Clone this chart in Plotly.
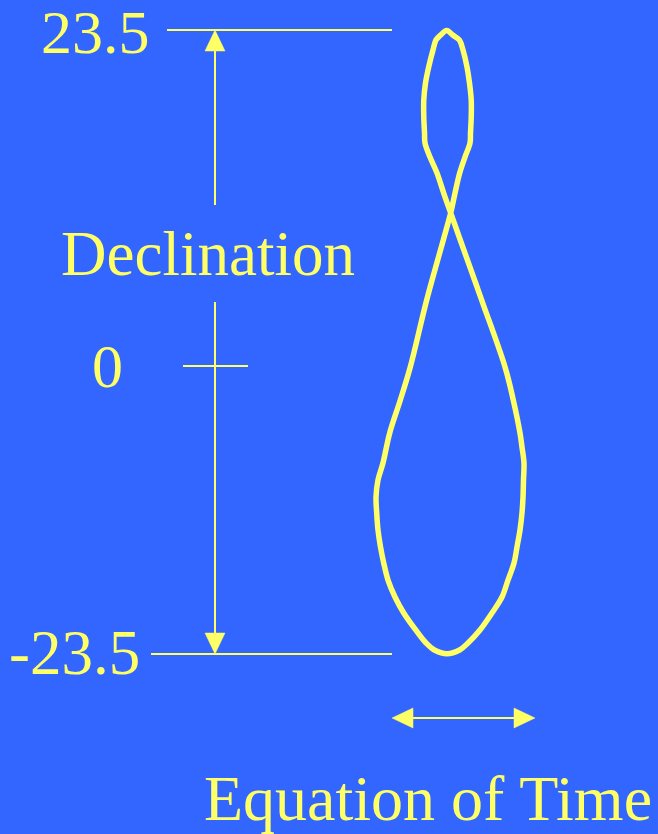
import plotly.graph_objects as go

# ---- data ----
# Analemma: equation of time (minutes) vs solar declination (degrees)
eot_min = [0.41, 1.65, 3.02, 3.78, 4.61, 5.12, 5.48, 5.48, 5.33, 5.23, 4.19,
           3.10, 2.13, 1.24, -0.29, -3.72, -7.11, -9.17, -11.36, -12.75,
           -13.78, -14.19, -14.05, -13.78, -13.26, -12.60, -11.71, -10.27,
           -8.47, -5.99, -3.86, -2.13, 0.48, 3.08, 4.81, 7.29, 9.77, 11.84,
           13.08, 14.32, 14.94, 15.56, 15.97, 16.18, 16.28, 16.38, 15.97,
           15.56, 14.17, 12.46, 7.64, 3.22, 1.24, -0.21, -1.59, -3.04, -4.07,
           -4.17, -4.32, -4.32, -3.97, -3.31, -2.42, -1.80, -0.83, 0.41]
declination = [23.46, 23.12, 22.75, 21.99, 20.71, 19.51, 18.23, 16.95, 15.74,
               14.99, 13.93, 12.73, 11.22, 9.72, 7.68, 3.16, -1.88, -4.37,
               -6.85, -9.11, -10.39, -11.68, -12.88, -14.16, -15.44, -16.65,
               -17.93, -19.21, -20.41, -21.69, -22.67, -23.20, -23.48, -23.20,
               -22.67, -21.69, -20.41, -19.21, -17.93, -16.65, -15.44, -14.16,
               -12.88, -11.68, -10.39, -9.11, -7.91, -6.85, -4.37, -1.88, 3.16,
               7.68, 9.72, 11.22, 12.73, 13.93, 14.99, 15.74, 16.95, 18.23,
               19.51, 20.71, 21.99, 22.75, 23.12, 23.46]

tick_labels = ["23.5", "0", "-23.5"]
tick_values = [23.5, -1.8, -23.5]   # where the labels sit on the drawing
y_title = "Declination"
x_title = "Equation of Time"

BG = "#3366FF"
YEL = "#FFFF66"
FONT = "Liberation Serif, Times New Roman, serif"

# ---- layout helpers: canvas pixel -> data units ----
W, H = 658, 834
PX_PER_MIN = 4.84
X0_PX = 444.7
PX_PER_DEG = 624 / 47.0
TOP_PX = 30


def px2x(px):
    return (px - X0_PX) / PX_PER_MIN


def py2y(py):
    return 23.5 - (py - TOP_PX) / PX_PER_DEG


fig = go.Figure()
fig.add_trace(go.Scatter(x=eot_min, y=declination, mode="lines",
                         line=dict(color=YEL, width=5.5, shape="spline", smoothing=1.0),
                         hoverinfo="skip", showlegend=False))

shapes = []
lw = 2
# horizontal guide lines at +/-23.5
shapes.append(dict(type="line", x0=px2x(167), x1=px2x(392), y0=tick_values[0], y1=tick_values[0]))
shapes.append(dict(type="line", x0=px2x(151), x1=px2x(392), y0=tick_values[2], y1=tick_values[2]))
# zero tick
shapes.append(dict(type="line", x0=px2x(183), x1=px2x(248), y0=tick_values[1], y1=tick_values[1]))
# vertical double arrow (broken by the label)
ax = px2x(215)
shapes.append(dict(type="line", x0=ax, x1=ax, y0=py2y(50), y1=py2y(205)))
shapes.append(dict(type="line", x0=ax, x1=ax, y0=py2y(302), y1=py2y(634)))
# horizontal double arrow
ay = py2y(718)
shapes.append(dict(type="line", x0=px2x(410), x1=px2x(516), y0=ay, y1=ay))
for s in shapes:
    s.update(xref="x", yref="y", line=dict(color=YEL, width=lw))


def tri(points):
    d = "M " + " L ".join(f"{px2x(a)},{py2y(b)}" for a, b in points) + " Z"
    return dict(type="path", path=d, xref="x", yref="y", fillcolor=YEL,
                line=dict(color=YEL, width=0.5))


shapes.append(tri([(215, 30), (205, 51), (225, 51)]))
shapes.append(tri([(215, 654), (205, 633), (225, 633)]))
shapes.append(tri([(392, 718), (413, 708), (413, 728)]))
shapes.append(tri([(535, 718), (514, 708), (514, 728)]))

annotations = [
    dict(x=px2x(152), y=py2y(32), text=tick_labels[0], xanchor="right", yanchor="middle",
         height=62, font=dict(size=62, color=YEL, family=FONT)),
    dict(x=px2x(107), y=py2y(366), text=tick_labels[1], xanchor="center", yanchor="middle",
         font=dict(size=62, color=YEL, family=FONT)),
    dict(x=px2x(142), y=py2y(653), text=tick_labels[2], xanchor="right", yanchor="middle",
         font=dict(size=63, color=YEL, family=FONT)),
    dict(x=px2x(207.5), y=py2y(254), text=y_title, xanchor="center", yanchor="middle",
         font=dict(size=63, color=YEL, family=FONT)),
    dict(x=px2x(427.5), y=py2y(798), text=x_title, xanchor="center", yanchor="middle",
         font=dict(size=64, color=YEL, family=FONT)),
]
for a in annotations:
    a.update(xref="x", yref="y", showarrow=False)

fig.update_layout(
    width=W, height=H, margin=dict(l=0, r=0, t=0, b=0, pad=0),
    paper_bgcolor=BG, plot_bgcolor=BG,
    xaxis=dict(range=[px2x(0), px2x(W)], visible=False, fixedrange=True),
    yaxis=dict(range=[py2y(H), py2y(0)], visible=False, fixedrange=True),
    shapes=shapes, annotations=annotations, showlegend=False,
)
fig.write_html("out.html", config={"displayModeBar": False},
               post_script="document.body.style.margin='0px';"
                           "document.body.style.overflow='hidden';")
